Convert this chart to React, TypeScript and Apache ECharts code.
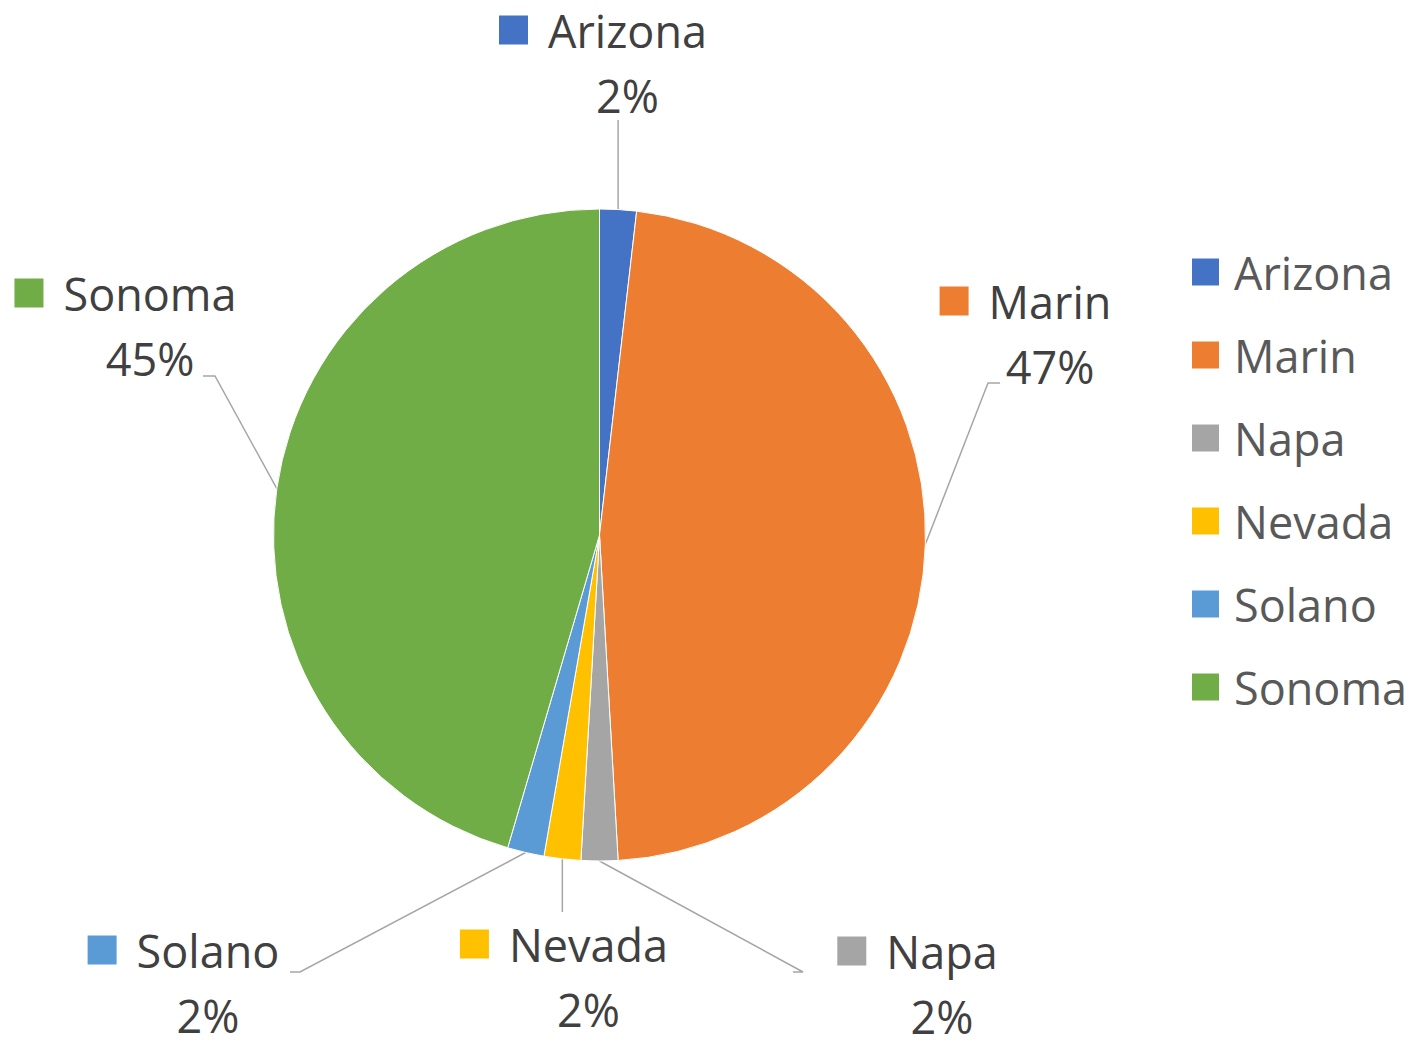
import React, { useEffect, useRef } from "react";
import * as echarts from "echarts";

const categories = ["Arizona", "Marin", "Napa", "Nevada", "Solano", "Sonoma"];
const values = [1, 26, 1, 1, 1, 25];
const colors = ["#4472C4", "#ED7D31", "#A5A5A5", "#FFC000", "#5B9BD5", "#70AD47"];

const FONT = "'Open Sans', 'Noto Sans', sans-serif";

// Label placement: x = center of the name text; y1 = center of the first (name) line.
// kind "v": vertical leader ending at y1 + dy
// kind "e": elbow leader, elbow (ex, ey) and end (tx, ty) offsets from (x, y1)
const placement: any[] = [
  { x: 627.5, y1: 30, kind: "v", dy: 90 },
  { x: 1050, y1: 301, kind: "e", ex: -62, ey: 82, tx: -50, ty: 82 },
  { x: 942, y1: 951, kind: "e", ex: -139, ey: 21, tx: -149, ty: 21 },
  { x: 588.5, y1: 944, kind: "v", dy: -32 },
  { x: 208, y1: 950, kind: "e", ex: 92, ey: 22, tx: 82, ty: 22 },
  { x: 150, y1: 293, kind: "e", ex: 65, ey: 83, tx: 53, ty: 83 },
];

// rich line heights: name line 90, percent line 40 -> line centers 65px apart
const L1 = 90;
const L2 = 40;

export default function App() {
  const ref = useRef<HTMLDivElement>(null);
  useEffect(() => {
    if (!ref.current) return;
    const chart = echarts.init(ref.current, undefined, { renderer: "svg" });
    const data = categories.map((name, i) => ({
      name,
      value: values[i],
      label: {
        formatter: `{s|}{g|}{n|{b}}{g2|}\n{p|{d}%}`,
        rich: {
          s: { width: 29, height: 29, backgroundColor: colors[i], lineHeight: L1 },
          g: { width: 20, lineHeight: L1 },
          g2: { width: 49, lineHeight: L1 },
          n: { fontSize: 45, fontFamily: FONT, color: "#404040", lineHeight: L1 },
          p: { fontSize: 45, fontFamily: FONT, color: "#404040", lineHeight: L2 },
        },
      },
    }));
    chart.setOption({
      animation: false,
      color: colors,
      legend: {
        orient: "vertical",
        left: 1190,
        top: 247,
        padding: 0,
        icon: "rect",
        itemWidth: 29,
        itemHeight: 29,
        itemGap: 33,
        selectedMode: false,
        data: categories,
        textStyle: {
          fontSize: 45,
          fontFamily: FONT,
          color: "#595959",
          lineHeight: 50,
          padding: [0, 0, 0, 9],
        },
      },
      series: [
        {
          type: "pie",
          center: [599.5, 535],
          radius: 326,
          startAngle: 90,
          clockwise: true,
          percentPrecision: 0,
          avoidLabelOverlap: false,
          itemStyle: { borderColor: "#ffffff", borderWidth: 1 },
          label: {
            show: true,
            position: "outside",
            align: "center",
            fontFamily: FONT,
          },
          labelLine: {
            show: true,
            length: 20,
            length2: 10,
            lineStyle: { color: "#A6A6A6", width: 1.5 },
          },
          emphasis: { disabled: true },
          labelLayout: (p: any) => {
            const pl = placement[p.dataIndex];
            const arc = p.labelLinePoints ? p.labelLinePoints[0] : [pl.x, pl.y1];
            let pts: number[][];
            if (pl.kind === "v") {
              const yEnd = pl.y1 + pl.dy;
              pts = [
                [arc[0], arc[1]],
                [arc[0], yEnd],
                [arc[0], yEnd],
              ];
            } else {
              pts = [
                [arc[0], arc[1]],
                [pl.x + pl.ex, pl.y1 + pl.ey],
                [pl.x + pl.tx, pl.y1 + pl.ty],
              ];
            }
            return {
              x: pl.x,
              y: pl.y1 - L1 / 2,
              align: "center",
              verticalAlign: "top",
              labelLinePoints: pts,
            };
          },
          data,
        },
      ],
    });
    return () => chart.dispose();
  }, []);
  return (
    <div
      ref={ref}
      style={{ position: "absolute", left: 0, top: 0, width: 1424, height: 1047, background: "#ffffff" }}
    />
  );
}
